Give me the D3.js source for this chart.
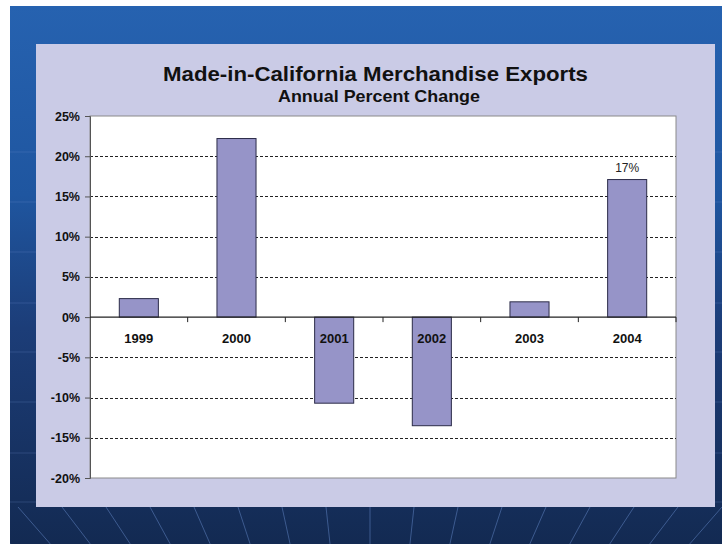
<!DOCTYPE html>
<html>
<head>
<meta charset="utf-8">
<script src="https://cdn.jsdelivr.net/npm/d3@7"></script>
<style>
  html, body { margin: 0; padding: 0; background: #fff; }
  svg { display: block; font-family: "Liberation Sans", Arial, sans-serif; }
</style>
</head>
<body>
<div id="chart"></div>
<script>
// Data
const years = ['1999', '2000', '2001', '2002', '2003', '2004'];
const pctChange = [2.3, 22.2, -10.7, -13.5, 1.9, 17.1];
const yTicks = [25, 20, 15, 10, 5, 0, -5, -10, -15, -20];
const gridTicks = [20, 15, 10, 5, -5, -10, -15];
const labelled = ['2004'];

const W = 722, H = 544;
const panel = { x: 36, y: 44, w: 679, h: 463 };
const plot = { left: 90, right: 676, top: 116, bottom: 478 };

const svg = d3.select('#chart')
    .append('svg')
    .attr('width', W)
    .attr('height', H);

// Background
const defs = svg.append('defs');
const bg = defs.append('linearGradient')
    .attr('id', 'bg')
    .attr('x1', 0).attr('y1', 0).attr('x2', 0).attr('y2', 1);
bg.append('stop').attr('offset', '0%').attr('stop-color', '#2662b0');
bg.append('stop').attr('offset', '35%').attr('stop-color', '#1f56a0');
bg.append('stop').attr('offset', '60%').attr('stop-color', '#1c3d78');
bg.append('stop').attr('offset', '100%').attr('stop-color', '#132a52');

svg.append('rect')
    .attr('x', 10).attr('y', 6)
    .attr('width', W - 10).attr('height', H - 6)
    .attr('fill', 'url(#bg)');

// faint horizontal bands
svg.append('g')
    .selectAll('line')
    .data([152, 202, 252, 303, 352, 402, 453, 502])
    .enter()
    .append('line')
    .attr('x1', 10).attr('x2', W)
    .attr('y1', d => d).attr('y2', d => d)
    .attr('stroke', '#6f95d0')
    .attr('stroke-opacity', 0.25)
    .attr('stroke-width', 1);

// fan of light lines below the panel
defs.append('clipPath').attr('id', 'fanClip')
    .append('rect').attr('x', 10).attr('y', 507).attr('width', W - 10).attr('height', H - 507);
const focus = { x: 370, y: 910 };
svg.append('g')
    .attr('clip-path', 'url(#fanClip)')
    .selectAll('line')
    .data(d3.range(-9, 10))
    .enter()
    .append('line')
    .attr('x1', focus.x).attr('y1', focus.y)
    .attr('x2', d => focus.x + d * 44 * (focus.y - 300) / (focus.y - 507))
    .attr('y2', 300)
    .attr('stroke', '#6f95d8')
    .attr('stroke-opacity', 0.45)
    .attr('stroke-width', 1);

// Lavender panel
svg.append('rect')
    .attr('x', panel.x).attr('y', panel.y)
    .attr('width', panel.w).attr('height', panel.h)
    .attr('fill', '#cacbe6');

// Titles
svg.append('text')
    .attr('x', 375.5).attr('y', 80.5)
    .attr('text-anchor', 'middle')
    .attr('font-size', 21).attr('font-weight', 'bold')
    .attr('textLength', 425).attr('lengthAdjust', 'spacingAndGlyphs')
    .attr('fill', '#111')
    .text('Made-in-California Merchandise Exports');

svg.append('text')
    .attr('x', 379).attr('y', 101.5)
    .attr('text-anchor', 'middle')
    .attr('font-size', 16.5).attr('font-weight', 'bold')
    .attr('textLength', 202).attr('lengthAdjust', 'spacingAndGlyphs')
    .attr('fill', '#111')
    .text('Annual Percent Change');

// Scales
const x = d3.scaleBand()
    .domain(years)
    .range([plot.left, plot.right])
    .paddingInner(0.6)
    .paddingOuter(0.3);

const y = d3.scaleLinear()
    .domain([-20, 25])
    .range([plot.bottom, plot.top]);

// Plot area
svg.append('rect')
    .attr('x', plot.left).attr('y', plot.top)
    .attr('width', plot.right - plot.left).attr('height', plot.bottom - plot.top)
    .attr('fill', '#fff')
    .attr('stroke', '#8a8a8a')
    .attr('stroke-width', 1);

// Gridlines
svg.append('g')
    .selectAll('line')
    .data(gridTicks)
    .enter()
    .append('line')
    .attr('x1', plot.left).attr('x2', plot.right)
    .attr('y1', d => Math.round(y(d)) + 0.5).attr('y2', d => Math.round(y(d)) + 0.5)
    .attr('stroke', '#222')
    .attr('stroke-width', 1)
    .attr('stroke-dasharray', '3,2');

// Y axis
const yAxis = svg.append('g')
    .attr('transform', `translate(${plot.left},0)`)
    .call(d3.axisLeft(y)
        .tickValues(yTicks)
        .tickSize(5)
        .tickPadding(5)
        .tickFormat(d => d + '%'));
yAxis.select('.domain').attr('stroke', '#555');
yAxis.selectAll('.tick line').attr('stroke', '#555');
yAxis.selectAll('.tick text')
    .attr('font-family', '"Liberation Sans", Arial, sans-serif')
    .attr('font-size', 12.5)
    .attr('font-weight', 'bold')
    .attr('fill', '#111');

// Bars
svg.append('g')
    .selectAll('rect')
    .data(years)
    .enter()
    .append('rect')
    .attr('x', d => x(d))
    .attr('width', x.bandwidth())
    .attr('y', (d, i) => y(Math.max(0, pctChange[i])))
    .attr('height', (d, i) => Math.abs(y(pctChange[i]) - y(0)))
    .attr('fill', '#9694c8')
    .attr('stroke', '#2b2b48')
    .attr('stroke-width', 1);

// Zero line with category ticks
const step = x.step();
const boundaries = d3.range(1, years.length + 1).map(i => plot.left + x.paddingOuter() * 0 + i * (plot.right - plot.left) / years.length);
svg.append('line')
    .attr('x1', plot.left).attr('x2', plot.right)
    .attr('y1', y(0)).attr('y2', y(0))
    .attr('stroke', '#222')
    .attr('stroke-width', 1.2);
svg.append('g')
    .selectAll('line')
    .data(boundaries)
    .enter()
    .append('line')
    .attr('x1', d => d).attr('x2', d => d)
    .attr('y1', y(0)).attr('y2', y(0) + 5)
    .attr('stroke', '#222');

// Category labels
svg.append('g')
    .selectAll('text')
    .data(years)
    .enter()
    .append('text')
    .attr('x', d => x(d) + x.bandwidth() / 2)
    .attr('y', y(0) + 25.5)
    .attr('text-anchor', 'middle')
    .attr('font-size', 13)
    .attr('font-weight', 'bold')
    .attr('fill', '#111')
    .text(d => d);

// Value label
svg.append('g')
    .selectAll('text')
    .data(labelled)
    .enter()
    .append('text')
    .attr('x', d => x(d) + x.bandwidth() / 2)
    .attr('y', d => y(pctChange[years.indexOf(d)]) - 7.5)
    .attr('text-anchor', 'middle')
    .attr('font-size', 12)
    .attr('fill', '#222')
    .text(d => Math.round(pctChange[years.indexOf(d)]) + '%');
</script>
</body>
</html>
